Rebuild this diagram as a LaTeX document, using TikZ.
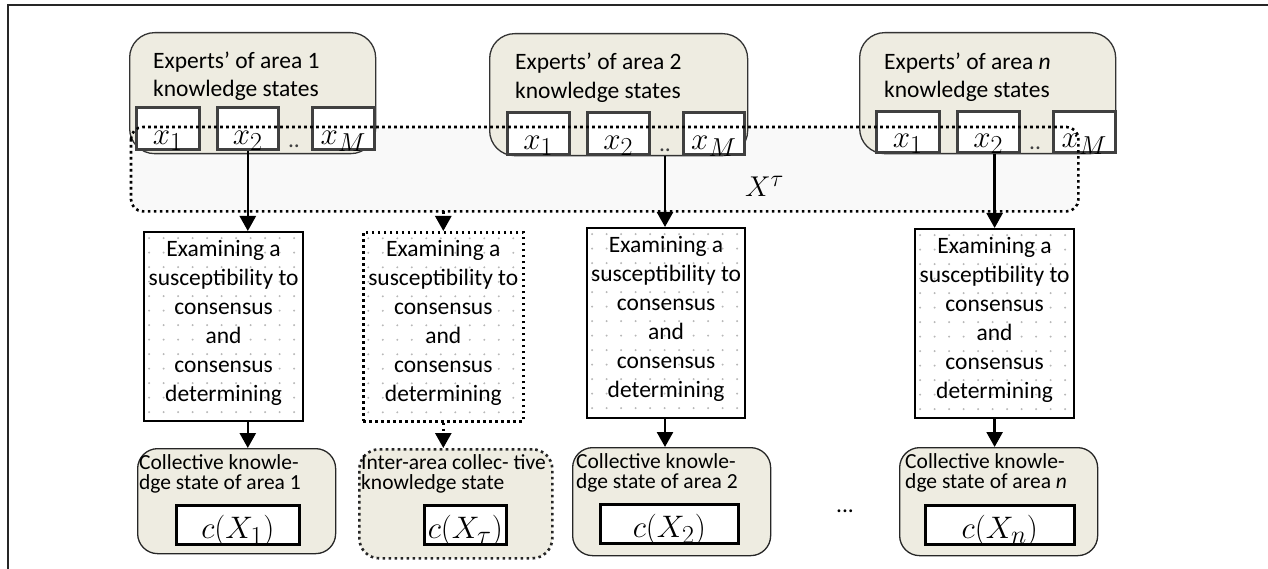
\documentclass[tikz,border=0pt]{standalone}
\usepackage{fontspec}
\setmainfont{Carlito}
\usetikzlibrary{arrows.meta}
\definecolor{tan}{HTML}{EEECE1}
\definecolor{haze}{HTML}{F9F9F9}
\definecolor{boxgray}{HTML}{404040}
\definecolor{speckgray}{HTML}{B8B8B8}
\newcommand{\headfont}{\fontsize{23.5}{29}\selectfont}
\newcommand{\notefont}{\fontsize{21.5}{20}\selectfont}
\newcommand{\symfont}{\fontsize{24.88}{30}\selectfont}
\tikzset{
  frameline/.style={draw=black!85, line width=2pt},
  hazebox/.style={fill=haze, draw=none, rounded corners=12pt, inner sep=0pt, anchor=north west},
  areabox/.style={draw=black!80, line width=1.3pt, fill=tan, rounded corners=25pt, inner sep=0pt, anchor=north west},
  statebox/.style={draw=black!85, line width=1.3pt, fill=tan, rounded corners=20pt, inner sep=0pt, anchor=north west},
  elbox/.style={draw=boxgray, line width=2.6pt, fill=white, inner sep=0pt, anchor=north west},
  resbox/.style={draw=black, line width=2.6pt, fill=white, inner sep=0pt, anchor=north west},
  procbox/.style={draw=black, line width=2.2pt, fill=white, inner sep=0pt, anchor=north west,
    path picture={
      \foreach \i in {0,...,11}{
        \foreach \j in {0,...,13}{
          \fill[speckgray] ([shift={(5pt+\i*14.5pt,-6pt-\j*14.5pt)}]path picture bounding box.north west) circle (1.1pt);
        }
      }
    }},
  dotline/.style={line width=2.6pt, dash pattern=on 2.6pt off 3.4pt},
  flow/.style={line width=2.6pt, -{Triangle[length=15pt,width=16pt]}},
  heading/.style={inner sep=0pt, font=\headfont, anchor=base west},
  proctext/.style={inner sep=0pt, font=\headfont, align=center, anchor=north},
  note/.style={inner sep=0pt, font=\notefont, anchor=base west},
  sym/.style={inner sep=0pt, font=\symfont, anchor=base, scale=1.25},
  gap/.style={inner sep=0pt, font=\headfont, text=black!75, anchor=base},
}
\begin{document}
\begin{tikzpicture}[x=1pt,y=-1pt]
\useasboundingbox (0,0) rectangle (1268,569);

% frame
\draw[frameline] (8,569) -- (8,5) -- (1268,5);

% shaded region of the joint profile
\node[hazebox, minimum width=947pt, minimum height=84pt] (xtau) at (131,127) {};

% experts of each area
\node[areabox, minimum width=246pt, minimum height=121pt] (t1) at (129,32) {};
\node[areabox, minimum width=258pt, minimum height=122pt] (t2) at (489,33) {};
\node[areabox, minimum width=256pt, minimum height=121pt] (tn) at (859,32) {};

\node[heading] (t1a) at (153,69) {Experts’ of area 1};
\node[heading] (t1b) at (153,97) {knowledge states};
\node[heading] (t2a) at (515,70) {Experts’ of area 2};
\node[heading] (t2b) at (515,99) {knowledge states};
\node[heading] (tna) at (884,70) {Experts’ of area \textit{n}};
\node[heading] (tnb) at (884,98) {knowledge states};

% knowledge states of the experts
\node[elbox, minimum width=63pt, minimum height=42pt] (x11) at (135,106) {};
\node[elbox, minimum width=61pt, minimum height=42pt] (x12) at (216,106) {};
\node[elbox, minimum width=62pt, minimum height=42pt] (x1M) at (311,106) {};
\node[elbox, minimum width=62pt, minimum height=42pt] (x21) at (506,111) {};
\node[elbox, minimum width=62pt, minimum height=42pt] (x22) at (586,111) {};
\node[elbox, minimum width=61pt, minimum height=42pt] (x2M) at (682,111) {};
\node[elbox, minimum width=63pt, minimum height=41pt] (xn1) at (875,110) {};
\node[elbox, minimum width=62pt, minimum height=41pt] (xn2) at (956,110) {};
\node[elbox, minimum width=62pt, minimum height=41pt] (xnM) at (1052,110) {};

\node[sym] (m11) at ([yshift=6pt]x11.south) {$x_1$};
\node[sym] (m12) at ([yshift=6pt]x12.south) {$x_2$};
\node[sym] (m1M) at ([yshift=6pt]x1M.south) {$x_M$};
\node[sym] (m21) at ([yshift=6pt]x21.south) {$x_1$};
\node[sym] (m22) at ([yshift=6pt]x22.south) {$x_2$};
\node[sym] (m2M) at ([yshift=6pt]x2M.south) {$x_M$};
\node[sym] (mn1) at ([yshift=6pt]xn1.south) {$x_1$};
\node[sym] (mn2) at ([yshift=6pt]xn2.south) {$x_2$};
\node[sym] (mnM) at ([yshift=6pt]xnM.south) {$x_M$};

\node[gap] (dd1) at (294,148) {..};
\node[gap] (dd2) at (665,152) {..};
\node[gap] (ddn) at (1035,150) {..};

% border of the joint profile
\draw[dotline, rounded corners=12pt] (xtau.north west) rectangle (xtau.south east);
\node[sym, anchor=base west, scale=0.92] (xlab) at (745,197) {$X^{\tau}$};

% consensus procedures
\node[procbox, minimum width=159pt, minimum height=189pt] (exA) at (143,231) {};
\node[procbox, dotline, minimum width=160pt, minimum height=189pt] (exB) at (362,231) {};
\node[procbox, minimum width=158pt, minimum height=190pt] (exC) at (586,227) {};
\node[procbox, minimum width=159pt, minimum height=189pt] (exD) at (914,228) {};

\foreach \b in {exA,exB,exC,exD}{
  \node[proctext] (\b t) at ([yshift=-9pt]\b.north) {Examining a\\susceptibility to\\consensus\\and\\consensus\\determining};
}

% collective knowledge states
\node[statebox, minimum width=198pt, minimum height=105pt] (b1) at (137,448) {};
\node[statebox, dotline, minimum width=193pt, minimum height=109pt] (bT) at (358,448) {};
\node[statebox, minimum width=198pt, minimum height=108pt] (b2) at (572,447) {};
\node[statebox, minimum width=198pt, minimum height=108pt] (bn) at (899,447) {};

\node[note] (b1a) at (139,469) {Collective knowle-};
\node[note] (b1b) at (139,489) {dge state of area 1};
\node[note] (bTa) at (361,469) {Inter-area collec- tive};
\node[note] (bTb) at (361,489) {knowledge state};
\node[note] (b2a) at (576,468) {Collective knowle-};
\node[note] (b2b) at (576,488) {dge state of area 2};
\node[note] (bna) at (905,468) {Collective knowle-};
\node[note] (bnb) at (905,488) {dge state of area \textit{n}};

\node[resbox, minimum width=123pt, minimum height=39pt] (c1) at (175,504) {};
\node[resbox, minimum width=82pt, minimum height=39pt] (cT) at (423,504) {};
\node[resbox, minimum width=138pt, minimum height=39pt] (c2) at (599,503) {};
\node[resbox, minimum width=149pt, minimum height=39pt] (cn) at (924,504) {};

\node[sym] (r1) at ([yshift=7pt]c1.south) {$c(X_1)$};
\node[sym] (rT) at ([yshift=7pt]cT.south) {$c(X_\tau)$};
\node[sym] (r2) at ([yshift=7pt]c2.south) {$c(X_2)$};
\node[sym] (rn) at ([yshift=7pt]cn.south) {$c(X_n)$};

\node[gap, text=black] (more) at (845,512) {...};

% flow of the procedure
\draw[flow] (x12.south) -- (x12.south |- exA.north);
\draw[flow, dotline] (xtau.south -| exB.north) -- (exB.north);
\draw[flow] (dd2 |- t2.south) -- (dd2 |- exC.north);
\draw[flow] (exD.north |- xn2.south) -- (exD.north);

\draw[flow] (x12 |- exA.south) -- (x12 |- b1.north);
\draw[flow, dotline] (exB.south) -- (exB.south |- bT.north);
\draw[flow] (dd2 |- exC.south) -- (dd2 |- b2.north);
\draw[flow] (exD.south) -- (exD.south |- bn.north);
\end{tikzpicture}
\end{document}
